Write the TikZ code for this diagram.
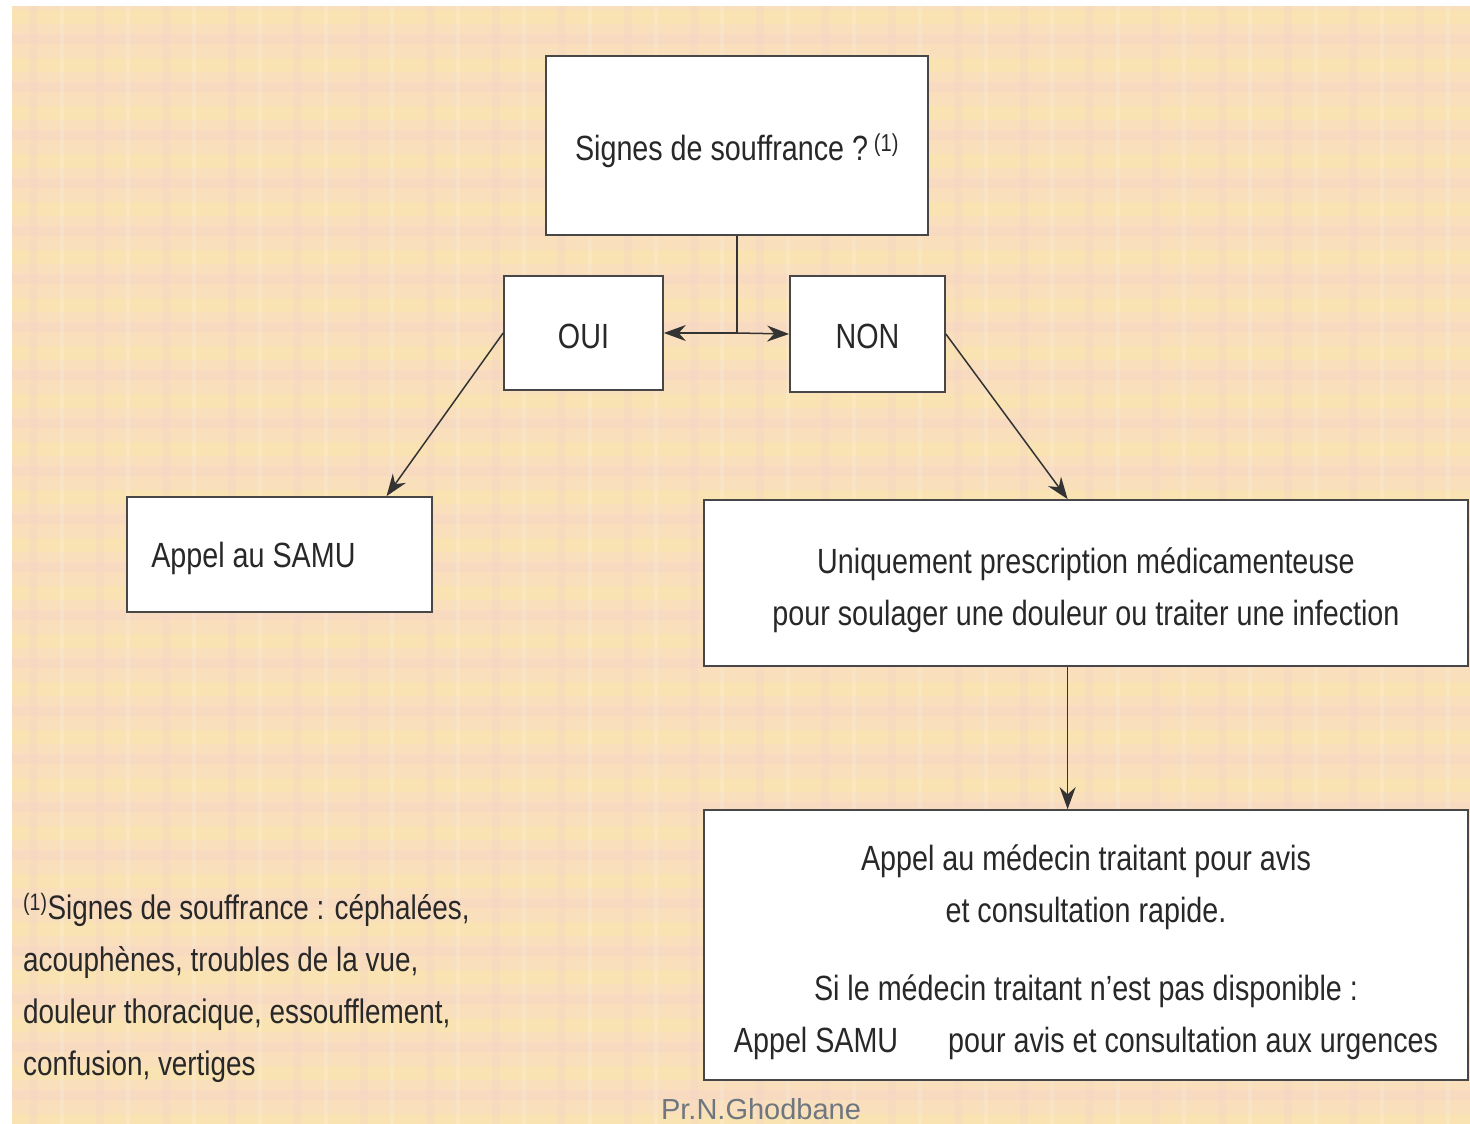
\documentclass[tikz,border=0pt]{standalone}
\usepackage{fontspec}
\setmainfont{Liberation Sans}[FakeStretch=0.82]
\newfontfamily\plainsans{Liberation Sans}
\usetikzlibrary{arrows.meta,calc}
\definecolor{bgpeach}{RGB}{249,223,188}
\definecolor{stripeyellow}{RGB}{253,234,170}
\definecolor{stripepink}{RGB}{245,210,200}
\definecolor{inkgray}{RGB}{40,40,40}
\definecolor{signgray}{RGB}{110,118,128}
\tikzset{
  box/.style={draw=black!72, line width=1.7pt, fill=white, inner sep=0pt},
  boxtext/.style={inner sep=0pt, text=inkgray, font=\fontsize{35}{52}\selectfont, align=center},
  conn/.style={draw=black!80, line width=1.5pt},
  arr/.style={conn, -{Stealth[length=22pt,width=16pt]}},
}
\begin{document}
\begin{tikzpicture}[x=1pt,y=-1pt]
\useasboundingbox (0,0) rectangle (1470,1124);
\fill[white] (0,0) rectangle (1470,1124);
\fill[bgpeach] (12,6) rectangle (1470,1124);
% background texture: faint horizontal and vertical stripes
\begin{scope}
\clip (12,6) rectangle (1470,1124);
\foreach \yy in {10,58,...,1124} {
  \fill[stripeyellow, opacity=0.45] (12,\yy) rectangle (1470,\yy+14);
  \fill[stripepink, opacity=0.35] (12,\yy+24) rectangle (1470,\yy+34);
}
\foreach \xx in {30,96,...,1470} {
  \fill[stripepink, opacity=0.25] (\xx,6) rectangle (\xx+8,1124);
  \fill[white, opacity=0.15] (\xx+30,6) rectangle (\xx+34,1124);
}
\end{scope}
% boxes
\node[box, minimum width=382pt, minimum height=179pt] (q) at (737,145.5) {};
\node[box, minimum width=159pt, minimum height=114pt] (oui) at (583.5,333) {};
\node[box, minimum width=155pt, minimum height=116pt] (non) at (867.5,334) {};
\node[box, minimum width=305pt, minimum height=115pt] (samu) at (279.5,554.5) {};
\node[box, minimum width=764pt, minimum height=166pt] (presc) at (1086,583) {};
\node[box, minimum width=764pt, minimum height=270pt] (medecin) at (1086,945) {};
% texts
\node[boxtext] (qtext) at ($(q.center)+(0,5)$) {Signes de souffrance ?\,\textsuperscript{(1)}};
\node[boxtext] (ouitext) at ($(oui.center)+(0,3)$) {OUI};
\node[boxtext] (nontext) at ($(non.center)+(0,2)$) {NON};
\node[boxtext, anchor=west] (samutext) at ($(samu.west)+(25,4)$) {Appel au SAMU};
\node[boxtext] (presctext) at ($(presc.center)+(0,7)$)
  {Uniquement prescription médicamenteuse\\pour soulager une douleur ou traiter une infection};
\node[boxtext] (medtext) at ($(medecin.center)+(0,7)$)
  {Appel au médecin traitant pour avis\\et consultation rapide.\\[26pt]Si le médecin traitant n'est pas disponible :\\Appel SAMU\hspace{50pt}pour avis et consultation aux urgences};
% connectors
\coordinate (fork) at (q.south |- oui.east);
\draw[conn] (q.south) -- (fork);
\draw[arr] (fork) -- (oui.east);
\draw[arr] (fork) -- (non.west);
\draw[arr] (oui.west) -- ($(samu.north west)!0.849!(samu.north east)$);
\draw[arr] (non.east) -- ($(presc.north west)!0.476!(presc.north east)$);
\draw[arr] ($(presc.south west)!0.476!(presc.south east)$) -- ($(medecin.north west)!0.476!(medecin.north east)$);
% footnote
\node[anchor=west, align=left, inner sep=0pt, text=inkgray, font=\fontsize{34}{52}\selectfont] (note) at (23,988)
  {\textsuperscript{(1)}Signes de souffrance : céphalées,\\acouphènes, troubles de la vue,\\douleur thoracique, essoufflement,\\confusion, vertiges};
% signature
\node[inner sep=0pt, text=signgray, font=\plainsans\fontsize{29}{32}\selectfont] (sig) at (761,1109) {Pr.N.Ghodbane};
\end{tikzpicture}
\end{document}
